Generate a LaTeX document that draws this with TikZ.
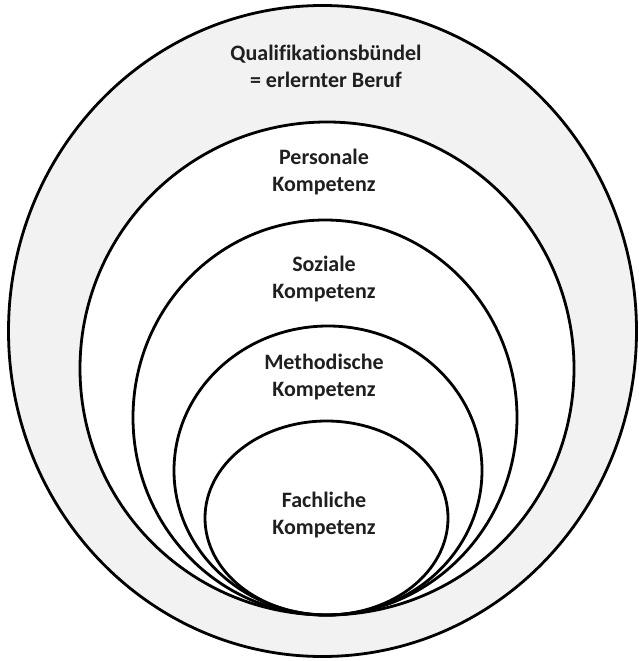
\documentclass[tikz,border=0pt]{standalone}
\usepackage{fontspec}
\setmainfont{Carlito}[Ligatures=NoCommon]
\begin{document}
\begin{tikzpicture}[x=1pt,y=-1pt,
  ring/.style={draw=black,line width=2.8pt},
  label/.style={align=center,font=\bfseries\fontsize{22}{27}\selectfont,text=black!88}]
\useasboundingbox (0,0) rectangle (638,661);
% nested competence rings, all touching at the bottom
\draw[ring,fill=black!5] (322.5,331) ellipse [x radius=314,y radius=325.5];
\draw[ring,fill=white] (327,368.5) ellipse [x radius=247,y radius=246.5];
\draw[ring] (325,417.5) ellipse [x radius=192,y radius=197.5];
\draw[ring] (328,470.5) ellipse [x radius=154,y radius=144.5];
\draw[ring] (326.5,518) ellipse [x radius=121.5,y radius=97];
% labels
\node[label] (quali) at (326,66) {Qualifikationsbündel\\= erlernter Beruf};
\node[label] (pers) at (324,172) {Personale\\Kompetenz};
\node[label] (soz) at (324,279) {Soziale\\Kompetenz};
\node[label] (meth) at (324,377) {Methodische\\Kompetenz};
\node[label] (fach) at (324,515) {Fachliche\\Kompetenz};
\end{tikzpicture}
\end{document}
